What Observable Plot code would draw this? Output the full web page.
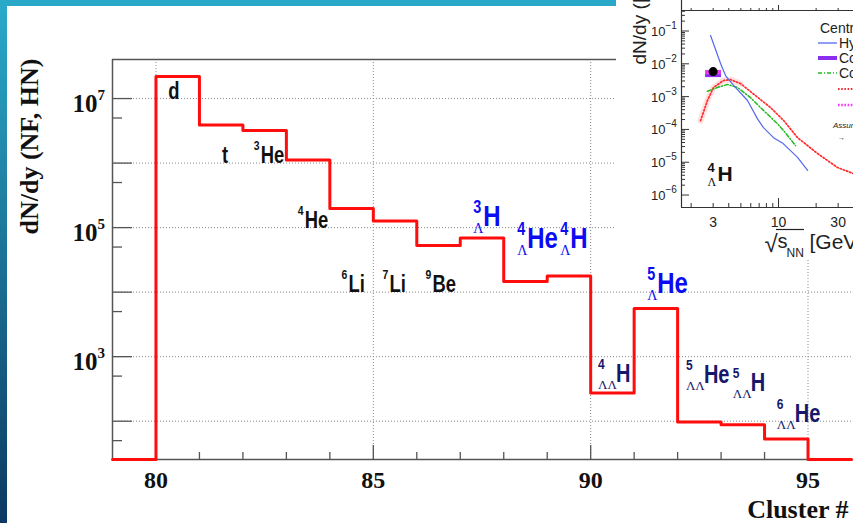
<!DOCTYPE html>
<html>
<head>
<meta charset="utf-8">
<script src="https://cdn.jsdelivr.net/npm/d3@7"></script>
<script src="https://cdn.jsdelivr.net/npm/@observablehq/plot@0.6"></script>
<style>
  body { margin: 0; width: 853px; height: 523px; overflow: hidden; position: relative; background: #fff; }
  #main { position: absolute; left: 0; top: 0; }
  #topbar { position: absolute; left: 0; top: 0; width: 853px; height: 6px; background: #29a8c7; }
  #sidebar { position: absolute; left: 0; top: 0; width: 7px; height: 523px; background: linear-gradient(#2aaaca, #0c3961); }
  #inset { position: absolute; left: 616px; top: 0; width: 237px; height: 258px; background: #fff; overflow: hidden; }
  svg { max-width: none !important; }
</style>
</head>
<body>
<div id="main"></div>
<div id="topbar"></div>
<div id="sidebar"></div>
<div id="inset"></div>
<script>
// ---- Cluster yields: lower edge of each cluster bin and its dN/dy (0 = empty bin)
const clusterBins = [79, 80, 81, 82, 83, 84, 85, 86, 87, 88, 89, 90, 91, 92, 93, 94, 95];
const clusterYield = [0, 2.2e7, 3.9e6, 3.2e6, 1.12e6, 1.97e5, 1.27e5, 5.3e4, 6.9e4, 1.46e4, 1.78e4, 274, 5.6e3, 97, 88, 53, 0];

// ---- Nucleus names written over the histogram (symbol, mass number, number of Λ)
const labelSymbol   = ["d", "t", "He", "He", "Li", "Li", "Be", "H", "He", "H", "H", "He", "He", "H", "He"];
const labelMass     = ["", "", "3", "4", "6", "7", "9", "3", "4", "4", "4", "5", "5", "5", "6"];
const labelHyperons = [0, 0, 0, 0, 0, 0, 0, 1, 1, 1, 2, 1, 2, 2, 2];
// anchor of each name in (cluster #, dN/dy)
const labelAtCluster = [80.28, 81.52, 82.25, 83.26, 84.27, 85.21, 86.20, 87.30, 88.31, 89.30, 90.17, 91.30, 92.19, 93.27, 94.28];
const labelAtYield   = [1e7, 1.02e6, 1.02e6, 1e5, 1.02e4, 1.02e4, 1.02e4, 1.07e5, 4.9e4, 4.9e4, 410, 9.8e3, 395, 297, 98];

// ---- Axis ticks
const xMajorTicks = [80, 85, 90, 95];
const xMinorTicks = [81, 82, 83, 84, 86, 87, 88, 89, 91, 92, 93, 94];
const yDecades = [1e2, 1e3, 1e4, 1e5, 1e6, 1e7];
const yHalfDecades = [5e1, 5e2, 5e3, 5e4, 5e5, 5e6];
const yLabelTicks = [1e3, 1e5, 1e7];

// ---- Inset: ⁴ΛH yield versus collision energy
const hybridEnergy = [2.86, 3.44, 3.77, 4.37, 5.65, 6.79, 7.58, 9.12, 10.9, 14.2, 17.1];
const hybridYield  = [0.073, 0.0102, 0.0044, 0.0022, 7.6e-4, 2.1e-4, 1.14e-4, 5.6e-5, 3.7e-5, 1.4e-5, 5.6e-6];
const thermalEnergy = [2.38, 2.70, 3.02, 3.63, 4.13, 4.97, 6.31, 8.6, 10.96, 14.2, 20.5, 29.6, 39.8];
const thermalYield  = [1.86e-4, 7.6e-4, 1.9e-3, 3.1e-3, 3.3e-3, 2.5e-3, 1.2e-3, 4.7e-4, 1.9e-4, 5.6e-5, 1.85e-5, 6.9e-6, 4.5e-6];
const coalEnergy = [2.70, 3.25, 3.91, 4.70, 5.97, 7.58, 9.8, 10.96, 13.7];
const coalYield  = [1.45e-3, 1.9e-3, 2.35e-3, 1.9e-3, 9.3e-4, 3.8e-4, 1.5e-4, 9.3e-5, 3.2e-5];
const measuredEnergy = [3.0];
const measuredYield  = [5.8e-3];
const bandEnergy = [2.61, 3.50];
const bandMagenta = [4.7e-3, 6.25e-3];
const bandPurple  = [3.8e-3, 4.7e-3];
const insetXMinor = [2, 3, 4, 5, 6, 7, 8, 9, 20, 30];
const insetXMajor = [10];
const insetXLabels = [3, 10, 30];
const insetDecades = [1e-6, 1e-5, 1e-4, 1e-3, 1e-2, 1e-1];

const serif = '"Liberation Serif", "Times New Roman", serif';
const labelFont = 'Arial, "Liberation Sans", sans-serif';   // drawn horizontally condensed below
const sans = '"Liberation Sans", Helvetica, sans-serif';

// ================= main histogram =================
const yDomain = [25.5, 4.03e7];
const xDomain = [79, 96];

const steps = clusterBins.map((c, i) => ({cluster: c, value: Math.max(clusterYield[i], yDomain[0])}));
steps.push({cluster: clusterBins[clusterBins.length - 1] + 1, value: steps[steps.length - 1].value});

const labels = labelSymbol.map((s, i) => ({
  symbol: s, mass: labelMass[i], hyperons: labelHyperons[i],
  x: labelAtCluster[i], y: labelAtYield[i]
}));

const labelStyles = [
  {test: d => d.hyperons === 0 && !d.mass, fill: "#111", size: 23, sup: 13, sub: 13, dx: 0},
  {test: d => d.hyperons === 0 && !!d.mass, fill: "#111", size: 23, sup: 13, sub: 13, dx: 7},
  {test: d => d.hyperons === 1, fill: "#0c0cf2", size: 30, sup: 18, sub: 14, dx: 10},
  {test: d => d.hyperons === 2, fill: "#17176b", size: 25, sup: 15, sub: 13, dx: 18}
];

const labelMarks = labelStyles.flatMap(st => {
  const rows = labels.filter(st.test);
  return [
    Plot.text(rows, {x: "x", y: "y", text: "symbol", textAnchor: "start", lineAnchor: "bottom",
      dx: st.dx, fontSize: st.size, fontWeight: "bold", fontFamily: labelFont, fill: st.fill}),
    Plot.text(rows, {x: "x", y: "y", text: "mass", textAnchor: "start", lineAnchor: "bottom",
      dy: -13, fontSize: st.sup, fontWeight: "bold", fontFamily: labelFont, fill: st.fill}),
    Plot.text(rows, {x: "x", y: "y", text: d => "Λ".repeat(d.hyperons), textAnchor: "start", lineAnchor: "bottom",
      dy: 7, fontSize: st.sub, fontFamily: serif, fill: st.fill})
  ];
});

const gridStyle = {stroke: "#8a8a8a", strokeOpacity: 1, strokeWidth: 1, strokeDasharray: "1,2"};
const axisInk = "#555";

const main = Plot.plot({
  width: 853, height: 523,
  marginLeft: 112, marginRight: 2, marginTop: 59, marginBottom: 64,
  style: {background: "#fff", overflow: "visible"},
  x: {domain: xDomain, axis: null, label: null},
  y: {type: "log", domain: yDomain, axis: null, label: null},
  marks: [
    Plot.gridY(yDecades, gridStyle),
    Plot.gridX(xMajorTicks, gridStyle),
    Plot.ruleX([xDomain[0]], {stroke: axisInk, strokeWidth: 1.5}),
    Plot.ruleY([yDomain[0]], {stroke: axisInk, strokeWidth: 1.5}),
    Plot.ruleY([yDomain[1]], {stroke: axisInk, strokeWidth: 1.5}),
    Plot.axisY(yDecades, {anchor: "left", tickSize: -20, tickFormat: () => "", label: null, stroke: axisInk, strokeWidth: 1.3}),
    Plot.axisY(yHalfDecades, {anchor: "left", tickSize: -10, tickFormat: () => "", label: null, stroke: axisInk, strokeWidth: 1.3}),
    Plot.axisX(xMajorTicks, {anchor: "bottom", tickSize: -14, tickFormat: () => "", label: null, stroke: axisInk, strokeWidth: 1.3}),
    Plot.axisX(xMinorTicks, {anchor: "bottom", tickSize: -7, tickFormat: () => "", label: null, stroke: axisInk, strokeWidth: 1.3}),
    Plot.line(steps, {x: "cluster", y: "value", curve: "step-after", stroke: "#ff0d0d", strokeWidth: 3}),
    // tick labels
    Plot.text(yLabelTicks, {y: d => d, frameAnchor: "left", text: () => "10", textAnchor: "end", lineAnchor: "bottom",
      dx: -15, dy: 13, fontSize: 25, fontWeight: "bold", fontFamily: serif, fill: "#111"}),
    Plot.text(yLabelTicks, {y: d => d, frameAnchor: "left", text: d => String(Math.round(Math.log10(d))), textAnchor: "start", lineAnchor: "bottom",
      dx: -15, dy: 1, fontSize: 15, fontWeight: "bold", fontFamily: serif, fill: "#111"}),
    Plot.text(xMajorTicks, {x: d => d, frameAnchor: "bottom", text: d => String(d), lineAnchor: "bottom",
      dy: 28, fontSize: 24, fontWeight: "bold", fontFamily: serif, fill: "#111"}),
    // axis titles
    Plot.text(["Cluster #"], {frameAnchor: "bottom-right", textAnchor: "end", lineAnchor: "bottom",
      dx: -3, dy: 58, fontSize: 26, fontWeight: "bold", fontFamily: serif, fill: "#111"}),
    Plot.text(["dN/dy (NF, HN)"], {frameAnchor: "top-left", rotate: -90, textAnchor: "end", lineAnchor: "bottom",
      dx: -75, dy: -1, fontSize: 26, fontWeight: "bold", fontFamily: serif, fill: "#111"}),
    ...labelMarks
  ]
});
document.getElementById("main").append(main);

// nucleus names use a narrow bold sans: squeeze the glyphs horizontally about their anchor
d3.select(main).selectAll('g[font-family^="Arial"] text').each(function() {
  const t = this.getAttribute("transform");
  if (t) {
    this.setAttribute("transform", `${t} scale(0.8,1)`);
  } else {
    const x = +this.getAttribute("x") || 0;
    const y = this.getAttribute("y");
    const yNum = y && !/em$/.test(y) ? +y : 0;
    this.removeAttribute("x");
    if (y && !/em$/.test(y)) this.removeAttribute("y");
    this.setAttribute("transform", `translate(${x},${yNum}) scale(0.8,1)`);
  }
});

// ================= inset: ⁴ΛH excitation function =================
const ixDomain = [1.675, 39.8];
const iyDomain = [10 ** -6.38, 10 ** -0.375];
const zipXY = (xs, ys) => xs.map((x, i) => ({x, y: ys[i]}));
const hybrid = zipXY(hybridEnergy, hybridYield);
const thermal = zipXY(thermalEnergy, thermalYield);
const coal = zipXY(coalEnergy, coalYield);
const measured = zipXY(measuredEnergy, measuredYield);
const insetInk = "#333";

const inset = Plot.plot({
  width: 237, height: 258,
  marginLeft: 65, marginRight: 0, marginTop: 10, marginBottom: 51,
  style: {background: "#fff"},
  x: {type: "log", domain: ixDomain, axis: null, label: null},
  y: {type: "log", domain: iyDomain, axis: null, label: null},
  marks: [
    Plot.ruleX([ixDomain[0]], {stroke: insetInk, strokeWidth: 1.2, insetTop: -10}),
    Plot.ruleY([iyDomain[0]], {stroke: insetInk, strokeWidth: 1.2}),
    Plot.ruleY([iyDomain[1]], {stroke: insetInk, strokeWidth: 1.2}),
    Plot.axisY(insetDecades, {anchor: "left", tickSize: -8, tickFormat: () => "", label: null, stroke: insetInk}),
    Plot.axisY(insetDecades.flatMap(d => [2, 3, 4, 5, 6, 7, 8, 9].map(k => k * d)).filter(v => v < iyDomain[1]),
      {anchor: "left", tickSize: -4, tickFormat: () => "", label: null, stroke: insetInk}),
    Plot.axisX(insetXMajor, {anchor: "bottom", tickSize: -9, tickFormat: () => "", label: null, stroke: insetInk}),
    Plot.axisX(insetXMinor, {anchor: "bottom", tickSize: -4, tickFormat: () => "", label: null, stroke: insetInk}),
    Plot.axisX(insetXMajor, {anchor: "top", tickSize: 6, tickFormat: () => "", label: null, stroke: insetInk}),
    Plot.axisX(insetXMinor, {anchor: "top", tickSize: 3, tickFormat: () => "", label: null, stroke: insetInk}),
    // model curves
    Plot.line(thermal.filter(d => d.x < 5.5), {x: "x", y: "y", stroke: "#ffc4c4", strokeWidth: 6, strokeOpacity: 0.5}),
    Plot.line(thermal, {x: "x", y: "y", stroke: "#ff2b2b", strokeWidth: 1.7, strokeDasharray: "1.4,2"}),
    Plot.line(coal, {x: "x", y: "y", stroke: "#22bb22", strokeWidth: 1.5, strokeDasharray: "4,2,1,2"}),
    Plot.line(hybrid, {x: "x", y: "y", stroke: "#5468ee", strokeWidth: 1.2}),
    Plot.rect([0], {x1: bandEnergy[0], x2: bandEnergy[1], y1: bandPurple[0], y2: bandPurple[1], fill: "#8a2ff0"}),
    Plot.rect([0], {x1: bandEnergy[0], x2: bandEnergy[1], y1: bandMagenta[0], y2: bandMagenta[1], fill: "#e83ae8"}),
    Plot.dot(measured, {x: "x", y: "y", r: 4.5, fill: "#000"}),
    // tick labels
    Plot.text(insetDecades, {y: d => d, frameAnchor: "left", text: () => "10", textAnchor: "end", lineAnchor: "bottom",
      dx: -16, dy: 5, fontSize: 13, fontFamily: sans, fill: "#222"}),
    Plot.text(insetDecades, {y: d => d, frameAnchor: "left", text: d => "−" + Math.round(-Math.log10(d)), textAnchor: "start", lineAnchor: "bottom",
      dx: -16, dy: -2, fontSize: 10, fontFamily: sans, fill: "#222"}),
    Plot.text(insetXLabels, {x: d => d, frameAnchor: "bottom", text: d => String(d), lineAnchor: "bottom",
      dy: 19, fontSize: 14, fontFamily: sans, fill: "#222"}),
    // axis titles
    Plot.text(["dN/dy (|y|<0.5)"], {frameAnchor: "top-left", rotate: -90, textAnchor: "start", lineAnchor: "bottom",
      dx: -36, dy: 54, fontSize: 19, fontFamily: sans, fill: "#222"}),
    Plot.text(["√"], {frameAnchor: "bottom-left", textAnchor: "start", lineAnchor: "bottom", dx: 83, dy: 44, fontSize: 24, fontFamily: sans, fill: "#222"}),
    Plot.text(["s"], {frameAnchor: "bottom-left", textAnchor: "start", lineAnchor: "bottom", dx: 96, dy: 40, fontSize: 20, fontFamily: sans, fill: "#222"}),
    Plot.text(["NN"], {frameAnchor: "bottom-left", textAnchor: "start", lineAnchor: "bottom", dx: 105, dy: 49, fontSize: 12, fontFamily: sans, fill: "#222"}),
    Plot.text(["[GeV]"], {frameAnchor: "bottom-left", textAnchor: "start", lineAnchor: "bottom", dx: 128, dy: 41, fontSize: 21, fontFamily: sans, fill: "#222"}),
    // ⁴ΛH tag
    Plot.text([{x: 2.70, y: 2.75e-6}], {x: "x", y: "y", text: () => "H", textAnchor: "start", lineAnchor: "bottom",
      dx: 10, fontSize: 21, fontWeight: "bold", fontFamily: sans, fill: "#111"}),
    Plot.text([{x: 2.70, y: 2.75e-6}], {x: "x", y: "y", text: () => "4", textAnchor: "start", lineAnchor: "bottom",
      dy: -9, fontSize: 13, fontWeight: "bold", fontFamily: sans, fill: "#111"}),
    Plot.text([{x: 2.70, y: 2.75e-6}], {x: "x", y: "y", text: () => "Λ", textAnchor: "start", lineAnchor: "bottom",
      dy: 5, fontSize: 12, fontFamily: serif, fill: "#111"})
  ]
});
document.getElementById("inset").append(inset);

// bar of the radical over s_NN in the energy axis title
d3.select(inset).append("line").attr("x1", 160).attr("x2", 188).attr("y1", 229.5).attr("y2", 229.5)
  .attr("stroke", "#222").attr("stroke-width", 1.2);

// legend of the inset
const leg = d3.select(inset).append("g").attr("font-family", sans).attr("fill", "#222").attr("text-anchor", "start");
leg.append("text").attr("x", 204).attr("y", 33).attr("font-size", 14).text("Central Au+Au");
const legendRows = [
  {y: 43, x1: 202, stroke: "#5468ee", width: 1.3, dash: null, text: "Hybrid UrQMD"},
  {y: 58, x1: 202, stroke: "#8a2ff0", width: 4, dash: null, text: "Coalescence"},
  {y: 73, x1: 202, stroke: "#22bb22", width: 1.6, dash: "4,2,1,2", text: "Coalescence"},
  {y: 89, x1: 222, stroke: "#ff2b2b", width: 2, dash: "1.6,1.6", text: null},
  {y: 105, x1: 222, stroke: "#ff33ff", width: 2.5, dash: "1.6,1.6", text: null}
];
for (const r of legendRows) {
  leg.append("line").attr("x1", r.x1).attr("x2", r.x1 + 19).attr("y1", r.y).attr("y2", r.y)
    .attr("stroke", r.stroke).attr("stroke-width", r.width).attr("stroke-dasharray", r.dash);
  if (r.text) leg.append("text").attr("x", 223).attr("y", r.y + 5).attr("font-size", 14).text(r.text);
}
leg.append("text").attr("x", 217).attr("y", 128).attr("font-size", 8).attr("font-style", "italic").text("Assuming");
leg.append("text").attr("x", 222).attr("y", 140).attr("font-size", 7).text("→");
</script>
</body>
</html>
